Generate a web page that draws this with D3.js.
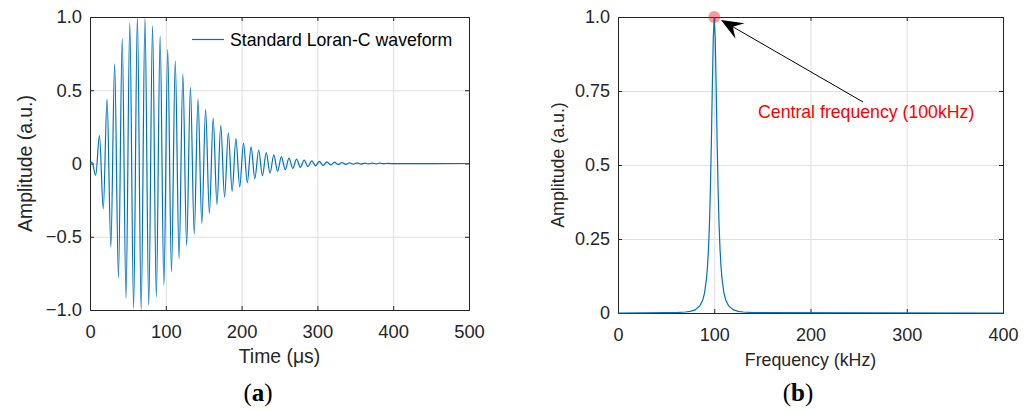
<!DOCTYPE html>
<html>
<head>
<meta charset="utf-8">
<script src="https://cdn.jsdelivr.net/npm/d3@7"></script>
<style>
  body { margin: 0; background: #fff; }
  text { font-family: "Liberation Sans", Arial, Helvetica, sans-serif; font-size: 17.7px; }
  text.caption { font-family: "Liberation Serif", "Times New Roman", serif; font-size: 25px; }
</style>
</head>
<body>
<script>
// (a) Loran-C pulse: carrier extrema every 5 us, first one at 2.5 us
var firstPeak = 2.5
var halfPeriod = 5
var posPeaks = [0.01, 0.19, 0.44, 0.68, 0.85, 0.96, 1.0, 0.99, 0.94, 0.87, 0.78, 0.70, 0.61, 0.52, 0.44, 0.37,
  0.31, 0.26, 0.21, 0.17, 0.14, 0.114, 0.092, 0.074, 0.059, 0.047, 0.037, 0.030, 0.023, 0.018, 0.014, 0.011,
  0.009, 0.007, 0.005, 0.004, 0.003, 0.0025, 0.002, 0.0015]
var negPeaks = [-0.08, -0.31, -0.57, -0.78, -0.92, -0.99, -1.0, -0.97, -0.91, -0.83, -0.74, -0.65, -0.56, -0.48,
  -0.41, -0.34, -0.28, -0.23, -0.19, -0.16, -0.13, -0.103, -0.083, -0.066, -0.053, -0.042, -0.033, -0.026,
  -0.021, -0.016, -0.013, -0.010, -0.008, -0.006, -0.005, -0.004, -0.003, -0.002, -0.0015, -0.001]
var timeTicks = [0, 100, 200, 300, 400, 500]
var waveTicks = [-1, -0.5, 0, 0.5, 1]
var waveTickLabels = ['\u22121.0', '\u22120.5', '0', '0.5', '1.0']

// (b) spectrum magnitude
var freqs = [0, 50, 60, 70, 75, 80, 85, 88, 90, 92, 93, 94, 95, 96, 97, 98, 99, 100,
  101, 102, 103, 104, 105, 106, 107, 108, 110, 112, 115, 120, 125, 130, 140, 150, 400]
var spectrum = [0, 0.001, 0.0014, 0.0033, 0.0056, 0.0106, 0.024, 0.043, 0.069, 0.118, 0.158, 0.216, 0.299, 0.417,
  0.576, 0.763, 0.930, 1.0, 0.930, 0.763, 0.576, 0.417, 0.299, 0.216, 0.158, 0.118, 0.069, 0.043, 0.024, 0.0106,
  0.0056, 0.0033, 0.0014, 0.001, 0]
var freqTicks = [0, 100, 200, 300, 400]
var specTicks = [0, 0.25, 0.5, 0.75, 1]
var specTickLabels = ['0', '0.25', '0.5', '0.75', '1.0']

var blue = '#0072BD'
var ink = '#262626'

var svg = d3.select('body').append('svg').attr('width', 1029).attr('height', 410)
svg.append('rect').attr('width', 1029).attr('height', 410).attr('fill', '#fff')

// one MATLAB-style axes box: grid, box, inward ticks on all sides, labels
function makeAxes(box, xDomain, yDomain, xTicks, yTicks, yLabels, xTitle, yTitleX, tickFont, titleFont) {
  var x = d3.scaleLinear().domain(xDomain).range([box.left, box.right])
  var y = d3.scaleLinear().domain(yDomain).range([box.bottom, box.top])
  var w = box.right - box.left
  var h = box.bottom - box.top

  var grid = svg.append('g')
  grid.append('g').attr('transform', 'translate(0,' + box.bottom + ')')
    .call(d3.axisBottom(x).tickValues(xTicks).tickSize(-h).tickFormat(''))
  grid.append('g').attr('transform', 'translate(' + box.left + ',0)')
    .call(d3.axisLeft(y).tickValues(yTicks).tickSize(-w).tickFormat(''))
  grid.selectAll('.domain').remove()
  grid.selectAll('line').attr('stroke', '#dfdfdf')

  var ax = svg.append('g').attr('color', ink)
  ax.append('rect')
    .attr('x', box.left + 0.5).attr('y', box.top + 0.5)
    .attr('width', w).attr('height', h)
    .attr('fill', 'none').attr('stroke', ink)
  ax.append('g').attr('transform', 'translate(0,' + box.bottom + ')')
    .call(d3.axisBottom(x).tickValues(xTicks).tickSizeInner(-4).tickSizeOuter(0).tickPadding(15))
  ax.append('g').attr('transform', 'translate(0,' + box.top + ')')
    .call(d3.axisTop(x).tickValues(xTicks).tickSizeInner(-4).tickSizeOuter(0).tickFormat(''))
  ax.append('g').attr('transform', 'translate(' + box.left + ',0)')
    .call(d3.axisLeft(y).tickValues(yTicks).tickSizeInner(-4).tickSizeOuter(0).tickPadding(8)
      .tickFormat((d, i) => yLabels[i]))
  ax.append('g').attr('transform', 'translate(' + box.right + ',0)')
    .call(d3.axisRight(y).tickValues(yTicks).tickSizeInner(-4).tickSizeOuter(0).tickFormat(''))
  ax.selectAll('.domain').remove()
  ax.selectAll('text').attr('font-family', null).attr('font-size', null).style('font-size', tickFont + 'px')

  svg.append('text')
    .attr('x', (box.left + box.right) / 2).attr('y', box.bottom + 53)
    .attr('text-anchor', 'middle').attr('fill', ink)
    .style('font-size', titleFont + 'px')
    .text(xTitle)
  svg.append('text')
    .attr('transform', 'translate(' + yTitleX + ',' + (box.top + box.bottom) / 2 + ') rotate(-90)')
    .attr('text-anchor', 'middle').attr('fill', ink)
    .style('font-size', titleFont + 'px')
    .text('Amplitude (a.u.)')

  return { x: x, y: y }
}

// ---- (a) time domain ----
var a = makeAxes({ left: 90, right: 469, top: 17, bottom: 310 }, [0, 500], [-1, 1],
  timeTicks, waveTicks, waveTickLabels, 'Time (\u03bcs)', 32, 18.4, 19.4)

var wavePts = [[0, 0]]
posPeaks.forEach((p, k) => {
  wavePts.push([firstPeak + 2 * k * halfPeriod, p])
  wavePts.push([firstPeak + (2 * k + 1) * halfPeriod, negPeaks[k]])
})
wavePts.push([500, 0])

svg.append('path')
  .datum(wavePts)
  .attr('fill', 'none')
  .attr('stroke', blue)
  .attr('stroke-width', 1.2)
  .attr('d', d3.line().x(d => a.x(d[0])).y(d => a.y(d[1])).curve(d3.curveMonotoneX))

// legend (no box)
svg.append('line')
  .attr('x1', 192).attr('x2', 224).attr('y1', 39.5).attr('y2', 39.5)
  .attr('stroke', blue).attr('stroke-width', 1.2)
svg.append('text').attr('x', 230).attr('y', 45.5).attr('fill', '#000')
  .text('Standard Loran-C waveform')

// ---- (b) frequency domain ----
var b = makeAxes({ left: 618, right: 1003, top: 17, bottom: 313 }, [0, 400], [0, 1],
  freqTicks, specTicks, specTickLabels, 'Frequency (kHz)', 564, 18, 17.8)

svg.append('path')
  .datum(freqs.map((f, i) => [f, spectrum[i]]))
  .attr('fill', 'none')
  .attr('stroke', blue)
  .attr('stroke-width', 1.2)
  .attr('d', d3.line().x(d => b.x(d[0])).y(d => b.y(d[1])))

// marker on the peak
svg.append('circle')
  .attr('cx', b.x(100)).attr('cy', b.y(1))
  .attr('r', 6)
  .attr('fill', '#ff0000').attr('fill-opacity', 0.4)

// arrow from label to peak
var tail = [b.x(254.5), b.y(0.713)]
var tip = [b.x(107), b.y(0.99)]
var dx = tip[0] - tail[0], dy = tip[1] - tail[1]
var len = Math.sqrt(dx * dx + dy * dy)
var ux = dx / len, uy = dy / len
var headLen = 22, headHalf = 9
var baseX = tip[0] - ux * headLen, baseY = tip[1] - uy * headLen
var notchX = tip[0] - ux * headLen * 0.62, notchY = tip[1] - uy * headLen * 0.62
svg.append('line')
  .attr('x1', tail[0]).attr('y1', tail[1]).attr('x2', notchX).attr('y2', notchY)
  .attr('stroke', '#000').attr('stroke-width', 1)
svg.append('path')
  .attr('d', 'M' + tip[0] + ',' + tip[1] +
    'L' + (baseX - uy * headHalf) + ',' + (baseY + ux * headHalf) +
    'L' + notchX + ',' + notchY +
    'L' + (baseX + uy * headHalf) + ',' + (baseY - ux * headHalf) + 'Z')
  .attr('fill', '#000')

svg.append('text')
  .attr('x', b.x(145.5)).attr('y', 118)
  .attr('fill', '#ff0000')
  .text('Central frequency (100kHz)')

// sub-figure captions
var captions = [{ x: 258, letter: 'a' }, { x: 798, letter: 'b' }]
captions.forEach(c => {
  var t = svg.append('text').attr('class', 'caption')
    .attr('x', c.x).attr('y', 401).attr('text-anchor', 'middle').attr('fill', '#000')
  t.append('tspan').text('(')
  t.append('tspan').attr('font-weight', 'bold').text(c.letter)
  t.append('tspan').text(')')
})
</script>
</body>
</html>
